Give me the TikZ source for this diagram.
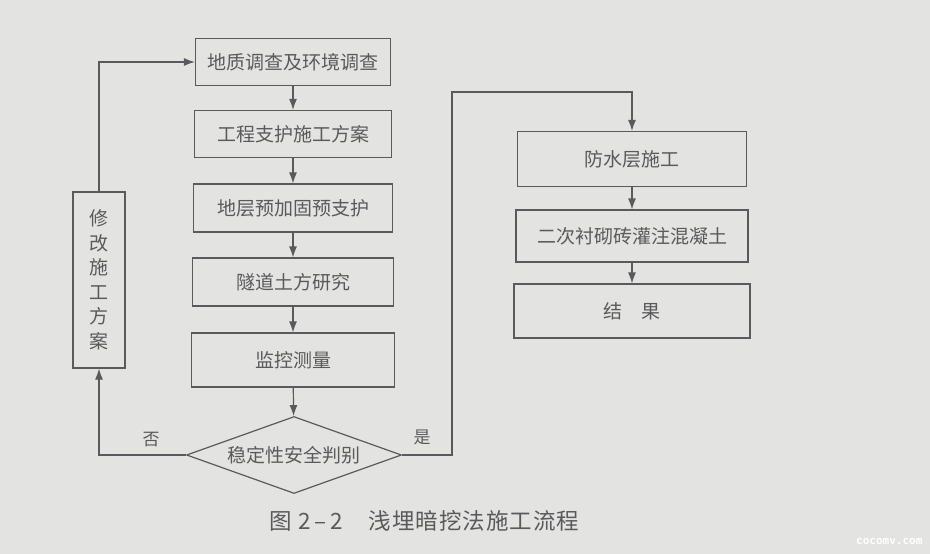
\documentclass[tikz,border=0pt]{standalone}
\usepackage{fontspec}
\setmainfont{Liberation Serif}
\newfontfamily\cjk{Noto Sans CJK SC}
\newfontfamily\wmfont{DejaVu Sans Mono}
\usetikzlibrary{arrows.meta,shapes.geometric}
\definecolor{bgc}{HTML}{E3E3E1}
\definecolor{ink}{HTML}{5A5A5C}
\begin{document}
\begin{tikzpicture}[x=1pt,y=-1pt,
  every node/.style={font=\cjk\fontsize{19}{22}\selectfont, text=ink},
  box/.style={draw=ink, line width=1.2pt, minimum height=48pt, inner sep=0pt},
  conn/.style={draw=ink, line width=1.2pt, -{Latex[length=11pt,width=8pt]}},
  lbl/.style={font=\cjk\fontsize{17}{19}\selectfont}]
\fill[bgc] (0,0) rectangle (930,554);
\useasboundingbox (0,0) rectangle (930,554);

% left column
\node[box, minimum width=195pt, minimum height=47pt] (b1) at (293,62) {地质调查及环境调查};
\node[box, minimum width=197pt, minimum height=47pt] (b2) at (293,134) {工程支护施工方案};
\node[box, minimum width=199pt] (b3) at (293,208) {地层预加固预支护};
\node[box, minimum width=201pt] (b4) at (293,282) {隧道土方研究};
\node[box, minimum width=203pt, minimum height=54pt] (b5) at (293,360) {监控测量};
\node[draw=ink, line width=1.2pt, diamond, aspect=2.8, inner sep=0pt,
      minimum width=215pt, minimum height=77pt] (d) at (294,455) {稳定性安全判别};

% feedback box
\node[box, minimum width=52pt, minimum height=176pt, align=center,
      font=\cjk\fontsize{19}{24.5}\selectfont] (lb) at (99,280) {修\\改\\施\\工\\方\\案};

% right column
\node[box, minimum width=229pt, minimum height=55pt] (b6) at (632,159) {防水层施工};
\node[box, minimum width=232pt, minimum height=52pt] (b7) at (632,236) {二次衬砌砖灌注混凝土};
\node[box, minimum width=236pt, minimum height=54pt] (b8) at (632,311) {结\quad 果};

% connectors
\draw[conn] (b1) -- (b2);
\draw[conn] (b2) -- (b3);
\draw[conn] (b3) -- (b4);
\draw[conn] (b4) -- (b5);
\draw[conn] (b5) -- (d);
\draw[conn] (d.west) -| node[lbl, pos=0.2, above=4pt] (no) {否} (lb.south);
\draw[conn] (lb.north) |- (b1.west);
\coordinate (r) at (452,92);
\draw[conn] (d.east) -| node[lbl, pos=0.2, above=6pt] (yes) {是} (r) -| (b6.north);
\draw[conn] (b6) -- (b7);
\draw[conn] (b7) -- (b8);

% caption
\node[anchor=west, font=\cjk\fontsize{22.5}{24}\selectfont] (cap) at (266,521) {图\hspace{6pt}2\,–\,2\hspace{26pt}浅\kern1pt 埋\kern1pt 暗\kern1pt 挖\kern1pt 法\kern1pt 施\kern1pt 工\kern1pt 流\kern1pt 程};
\node[anchor=east, text=white, font=\wmfont\bfseries\fontsize{11}{13}\selectfont] (wm) at (926,541) {cocomv.com};
\end{tikzpicture}
\end{document}
